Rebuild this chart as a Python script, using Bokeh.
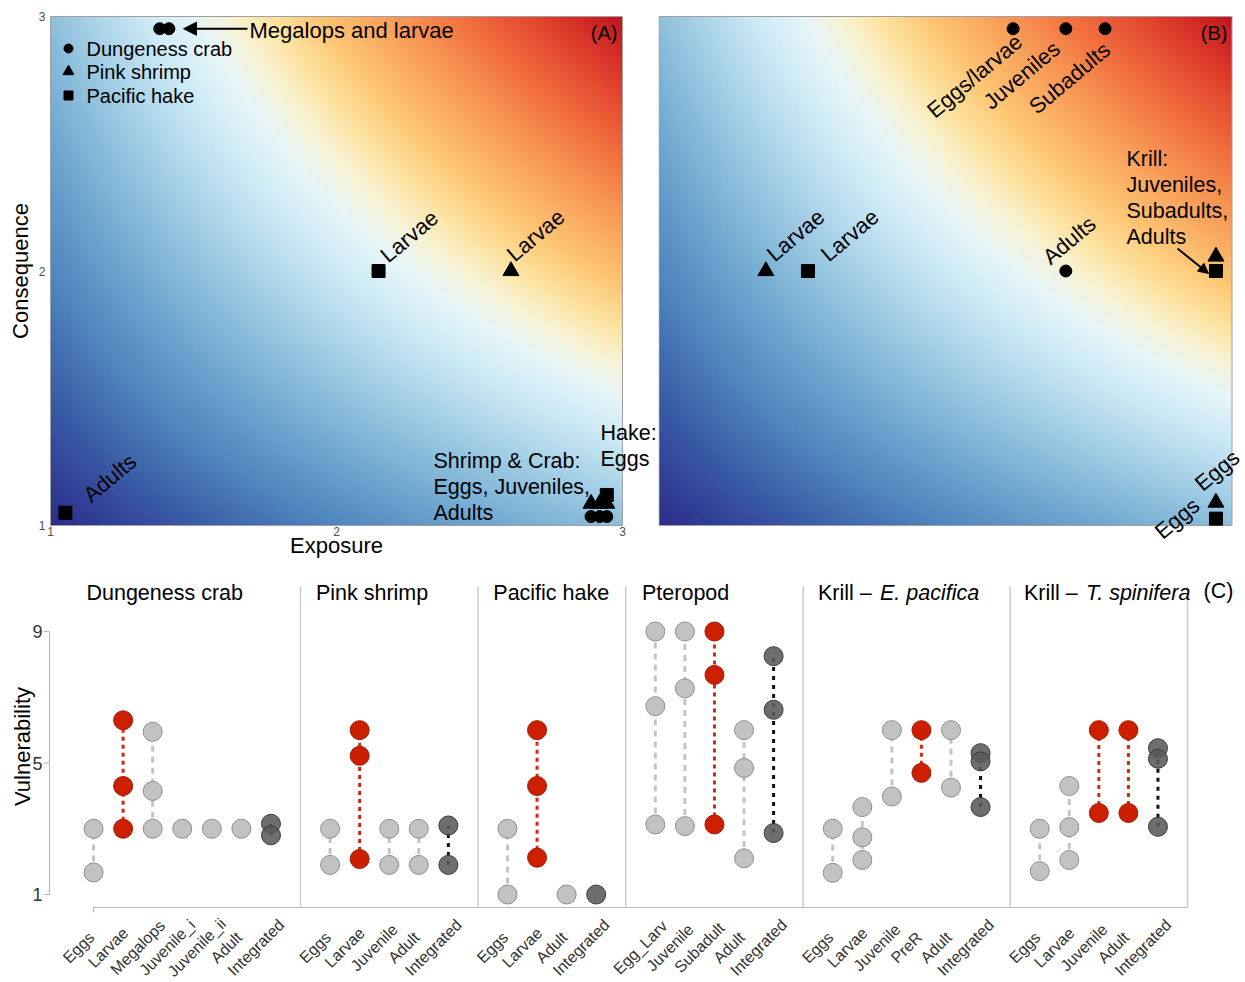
import math
import numpy as np
from bokeh.plotting import figure
from bokeh.models import (Label, LabelSet, Arrow, NormalHead, LinearColorMapper,
                          Range1d, ColumnDataSource)
from bokeh.layouts import column, row
from bokeh.embed import file_html
from bokeh.resources import INLINE
from bokeh.core.properties import value

FONT = "Liberation Sans"

# ---------------- Panel A data (Exposure, Consequence) ----------------
crab_exposure = [1.382, 1.414, 2.89, 2.92, 2.945]
crab_consequence = [2.952, 2.952, 1.035, 1.035, 1.035]
shrimp_exposure = [2.61, 2.89, 2.92, 2.945]
shrimp_consequence = [2.0, 1.086, 1.086, 1.086]
hake_exposure = [2.147, 1.052, 2.945]
hake_consequence = [2.0, 1.05, 1.12]

# ---------------- Panel B data ----------------
ptero_exposure = [2.236, 2.42, 2.557, 2.42]
ptero_consequence = [2.952, 2.952, 2.952, 2.0]
epac_exposure = [1.373, 2.944, 2.944]
epac_consequence = [2.0, 2.057, 1.09]
tspin_exposure = [1.52, 2.944, 2.944]
tspin_consequence = [2.0, 2.0, 1.027]

axis_ticks_ab = [1, 2, 3]

# ---------------- Risk surface colours ----------------
risk_stops = [1, 1.5, 2, 2.5, 3, 3.5, 4, 4.5, 4.9, 5.3, 5.8, 6.5, 7.3, 8.2, 9]
risk_colors = ["#2c2d8c", "#3a5ca6", "#5087bf", "#6ea5cf", "#8ec0dc", "#afd6ea",
               "#cdeaf7", "#e6f5f8", "#f8f2d3", "#fde3a0", "#fdc674", "#f9a05a",
               "#f2713f", "#df3e2c", "#c2141e"]

# ---------------- Panel C data (Vulnerability) ----------------
crab_stages = ["Eggs", "Larvae", "Megalops", "Juvenile_i", "Juvenile_ii", "Adult", "Integrated"]
crab_vuln = [[3, 1.67], [6.3, 4.3, 3.0], [5.95, 4.15, 3.0], [3.0], [3.0], [3.0], [3.15, 2.8]]
shrimp_stages = ["Eggs", "Larvae", "Juvenile", "Adult", "Integrated"]
shrimp_vuln = [[3.0, 1.9], [6.0, 5.22, 2.08], [3.0, 1.9], [3.0, 1.9], [3.1, 1.9]]
hake_stages = ["Eggs", "Larvae", "Adult", "Integrated"]
hake_vuln = [[3.0, 1.0], [6.0, 4.3, 2.12], [1.0], [1.0]]
ptero_stages = ["Egg_Larv", "Juvenile", "Subadult", "Adult", "Integrated"]
ptero_vuln = [[9.0, 6.73, 3.13], [9.0, 7.27, 3.08], [9.0, 7.68, 3.13], [6.0, 4.85, 2.1], [8.25, 6.62, 2.87]]
epac_stages = ["Eggs", "Larvae", "Juvenile", "PreR", "Adult", "Integrated"]
epac_vuln = [[3.0, 1.66], [3.66, 2.74, 2.05], [6.0, 3.98], [6.0, 4.7], [6.0, 4.25], [5.3, 5.05, 3.66]]
tspin_stages = ["Eggs", "Larvae", "Juvenile", "Adult", "Integrated"]
tspin_vuln = [[3.0, 1.71], [4.3, 3.05, 2.05], [6.0, 3.48], [6.0, 3.48], [5.45, 5.13, 3.06]]
vuln_ticks = [1, 5, 9]

facet_titles = ["Dungeness crab", "Pink shrimp", "Pacific hake", "Pteropod", "Krill \u2013", "Krill \u2013"]
facet_italic = ["", "", "", "", "E. pacifica", "T. spinifera"]
facet_stages = [crab_stages, shrimp_stages, hake_stages, ptero_stages, epac_stages, tspin_stages]
facet_vuln = [crab_vuln, shrimp_vuln, hake_vuln, ptero_vuln, epac_vuln, tspin_vuln]
facet_highlight = [["Larvae"], ["Larvae"], ["Larvae"], ["Subadult"], ["PreR"], ["Juvenile", "Adult"]]

# ======================================================================
def hex2rgb(h):
    return [int(h[i:i + 2], 16) for i in (1, 3, 5)]

stops = np.array(risk_stops, dtype=float)
rgb = np.array([hex2rgb(c) for c in risk_colors], dtype=float)
palette = []
for v in np.linspace(1, 9, 256):
    r, g, b = (np.interp(v, stops, rgb[:, k]) for k in range(3))
    palette.append("#%02x%02x%02x" % (int(round(r)), int(round(g)), int(round(b))))
mapper = LinearColorMapper(palette=palette, low=1, high=9)

grid = np.linspace(1, 3, 400)
risk = np.outer(grid, grid)


def add_label(p, text, x, y, size, angle=0.0, align="left", baseline="middle",
              italic=False, color="black", x_offset=0):
    p.add_layout(Label(x=x, y=y, text=text, text_font=FONT, text_font_size=f"{size}px",
                       angle=angle, text_align=align, text_baseline=baseline,
                       text_color=color, x_offset=x_offset,
                       text_font_style="italic" if italic else "normal"))


def bare_fig(width, height, xr, yr):
    p = figure(width=width, height=height, x_range=Range1d(*xr), y_range=Range1d(*yr),
               output_backend="svg", toolbar_location=None,
               x_axis_location=None, y_axis_location=None,
               min_border=0, min_border_left=0, min_border_right=0,
               min_border_top=0, min_border_bottom=0)
    p.grid.visible = False
    p.outline_line_color = None
    return p


# pixel <-> data helpers (panels A/B share the vertical scale)
AXS, BXS, YS = 286.0, 286.5, 254.5
def ax(px): return 1 + (px - 50) / AXS
def bx(px): return 1 + (px - 658.5) / BXS
def ay(py): return 3 - (py - 16) / YS


def risk_panel(p):
    p.image(image=[risk], x=1, y=1, dw=2, dh=2, color_mapper=mapper)
    p.quad(left=[1], right=[3], bottom=[1], top=[3], fill_color=None,
           line_color="#a0a0a0", line_width=1)


def legend(p, xf, names):
    xs = xf(68)
    ys = [ay(48), ay(71), ay(95)]
    p.scatter([xs], [ys[0]], marker="circle", size=9, color="black")
    p.scatter([xs], [ys[1]], marker="triangle", size=11, color="black")
    p.scatter([xs], [ys[2]], marker="square", size=9, color="black")
    lsrc = ColumnDataSource(dict(x=[xf(86)] * 3, y=ys, text=names))
    p.add_layout(LabelSet(x="x", y="y", text="text", source=lsrc, text_align="left",
                          text_baseline="middle", text_font=value(FONT),
                          text_font_size="20px", text_color="black"))


ROT = math.radians(40)

# ---------------- Panel A ----------------
pA = bare_fig(658, 560, (ax(0), ax(658)), (ay(560), ay(0)))
risk_panel(pA)
for t in axis_ticks_ab:
    add_label(pA, str(t), ax(45), t, 12, align="right", color="#4d4d4d")
    add_label(pA, str(t), t, ay(531), 12, align="center", color="#4d4d4d")
add_label(pA, "Exposure", 2.0, ay(545), 22, align="center")
add_label(pA, "Consequence", ax(20), 2.0, 22, angle=math.pi / 2, align="center")

pA.scatter(crab_exposure, crab_consequence, marker="circle", size=12, color="black")
pA.scatter(shrimp_exposure, shrimp_consequence, marker="triangle", size=16, color="black")
pA.scatter(hake_exposure, hake_consequence, marker="square", size=13, color="black")
legend(pA, ax, ["Dungeness crab", "Pink shrimp", "Pacific hake"])

add_label(pA, "(A)", ax(617), ay(32), 20, align="right")
pA.add_layout(Arrow(end=NormalHead(size=13, fill_color="black", line_color="black"),
                    x_start=ax(247), y_start=crab_consequence[0],
                    x_end=ax(183), y_end=crab_consequence[0],
                    line_width=2, line_color="black"))
add_label(pA, "Megalops and larvae", ax(249), crab_consequence[0] - 2 / YS, 22)
add_label(pA, "Larvae", hake_exposure[0] + 5 / AXS, hake_consequence[0] + 13 / YS, 22,
          angle=ROT, baseline="alphabetic")
add_label(pA, "Larvae", shrimp_exposure[0] - 1 / AXS, shrimp_consequence[0] + 14 / YS, 22,
          angle=ROT, baseline="alphabetic")
add_label(pA, "Adults", hake_exposure[1] + 21 / AXS, hake_consequence[1] + 15 / YS, 22,
          angle=ROT, baseline="alphabetic")
for i, t in enumerate(["Shrimp & Crab:", "Eggs, Juveniles,", "Adults"]):
    add_label(pA, t, ax(433), ay(460 + 26 * i), 21.5)
for i, t in enumerate(["Hake:", "Eggs"]):
    add_label(pA, t, ax(600), ay(432 + 26 * i), 21.5)

# ---------------- Panel B ----------------
pB = bare_fig(587, 560, (bx(658), bx(1245)), (ay(560), ay(0)))
risk_panel(pB)
pB.scatter(ptero_exposure, ptero_consequence, marker="circle", size=12, color="black")
pB.scatter(epac_exposure, epac_consequence, marker="triangle", size=16, color="black")
pB.scatter(tspin_exposure, tspin_consequence, marker="square", size=13, color="black")
legend(pB, bx, ["Pteropod", "Krill - E. pacifica", "Krill - T. spinifera"])
add_label(pB, "(B)", bx(1227), ay(32), 20, align="right")

add_label(pB, "Eggs/larvae", ptero_exposure[0] + 6 / BXS, ptero_consequence[0] - 10 / YS, 22,
          angle=ROT, align="right", baseline="alphabetic")
add_label(pB, "Juveniles", ptero_exposure[1] - 9 / BXS, ptero_consequence[1] - 17 / YS, 22,
          angle=ROT, align="right", baseline="alphabetic")
add_label(pB, "Subadults", ptero_exposure[2] + 2 / BXS, ptero_consequence[2] - 18 / YS, 22,
          angle=ROT, align="right", baseline="alphabetic")
add_label(pB, "Adults", ptero_exposure[3] - 20 / BXS, ptero_consequence[3] + 11 / YS, 22,
          angle=ROT, baseline="alphabetic")
add_label(pB, "Larvae", epac_exposure[0] + 4 / BXS, epac_consequence[0] + 14 / YS, 22,
          angle=ROT, baseline="alphabetic")
add_label(pB, "Larvae", tspin_exposure[0] + 16 / BXS, tspin_consequence[0] + 14 / YS, 22,
          angle=ROT, baseline="alphabetic")
add_label(pB, "Eggs", epac_exposure[2] - 18 / BXS, epac_consequence[2] + 16 / YS, 22,
          angle=ROT, baseline="alphabetic")
add_label(pB, "Eggs", tspin_exposure[2] - 58 / BXS, tspin_consequence[2] - 16 / YS, 22,
          angle=ROT, baseline="alphabetic")
for i, t in enumerate(["Krill:", "Juveniles,", "Subadults,", "Adults"]):
    add_label(pB, t, bx(1126), ay(158 + 26 * i), 21.5)
pB.add_layout(Arrow(end=NormalHead(size=10, fill_color="black", line_color="black"),
                    x_start=bx(1177), y_start=ay(248), x_end=bx(1208), y_end=ay(273),
                    line_width=2, line_color="black"))

# ---------------- Panel C ----------------
CX, CY = 29.567, 32.875
def cx(px): return -0.49 + (px - 49) / CX
def cy(py): return 9 - (py - 631) / CY

pC = bare_fig(1245, 422, (cx(0), cx(1245)), (cy(982), cy(560)))

AXIS_GREY = "#b8b8b8"
# y axis (capped at 1..9)
pC.segment(x0=[cx(49)], y0=[vuln_ticks[0]], x1=[cx(49)], y1=[vuln_ticks[-1]],
           line_color=AXIS_GREY, line_width=1.2)
pC.segment(x0=[cx(43)] * len(vuln_ticks), y0=vuln_ticks, x1=[cx(49)] * len(vuln_ticks),
           y1=vuln_ticks, line_color=AXIS_GREY, line_width=1.2)
for t in vuln_ticks:
    add_label(pC, str(t), cx(42), t, 18, align="right", color="#333333")
add_label(pC, "Vulnerability", cx(22), cy(746), 22, angle=math.pi / 2, align="center")

pos = 0
boundaries, lefts = [], []
groups = {k: dict(x=[], y=[], sx=[], s0=[], s1=[]) for k in ("grey", "red", "dark")}
tick_x, tick_t = [], []
for stages, vuln, hl in zip(facet_stages, facet_vuln, facet_highlight):
    left = pos
    lefts.append(left)
    for i, (st, vs) in enumerate(zip(stages, vuln)):
        xc = left + i + 1
        cls = "dark" if st == "Integrated" else ("red" if st in hl else "grey")
        g = groups[cls]
        for v in vs:
            g["x"].append(xc); g["y"].append(v)
        if len(vs) > 1:
            g["sx"].append(xc); g["s0"].append(min(vs)); g["s1"].append(max(vs))
        tick_x.append(xc); tick_t.append(st)
    pos = left + len(stages) + 1
    boundaries.append(pos)

# x axis line (capped from first stage to last facet edge)
pC.segment(x0=[tick_x[0]], y0=[cy(907)], x1=[boundaries[-1]], y1=[cy(907)],
           line_color=AXIS_GREY, line_width=1.2)
pC.segment(x0=[tick_x[0]], y0=[cy(907)], x1=[tick_x[0]], y1=[cy(912)],
           line_color=AXIS_GREY, line_width=1.2)
# facet separators
pC.segment(x0=boundaries, y0=[cy(907)] * len(boundaries), x1=boundaries,
           y1=[cy(586)] * len(boundaries), line_color="#cccccc", line_width=1.5)

styles = {"grey": ("#c4c4c4", "6 5", "#c2c2c2", "#8e8e8e", 1.0),
          "red": ("#d42a14", "4 4", "#cc1f00", "#a81a00", 1.0),
          "dark": ("#111111", "4 5", "#5a5a5a", "#3c3c3c", 0.88)}
for cls in ["grey", "red", "dark"]:
    g = groups[cls]
    lc, dash, fc, oc, fa = styles[cls]
    pC.segment(x0=g["sx"], y0=g["s0"], x1=g["sx"], y1=g["s1"], line_color=lc,
               line_width=3, line_dash=dash)
for cls in ["grey", "red", "dark"]:
    g = groups[cls]
    lc, dash, fc, oc, fa = styles[cls]
    pC.scatter(g["x"], g["y"], marker="circle", size=19, fill_color=fc, line_color=oc,
               line_width=1, fill_alpha=fa)

# stage labels: centred on a point below-left of each stage, rotated 45 degrees
src = ColumnDataSource(dict(x=tick_x, y=[cy(947)] * len(tick_x), text=tick_t))
pC.add_layout(LabelSet(x="x", y="y", text="text", source=src, angle=math.pi / 4,
                       text_align="center", text_baseline="middle", x_offset=-15,
                       text_font=value(FONT), text_font_size="16px", text_color="#333333"))

title_shift = [0.76, 0.52, 0.52, 0.55, 0.5, 0.47]
for left, sh, t, it in zip(lefts, title_shift, facet_titles, facet_italic):
    add_label(pC, t, left + sh, cy(592), 21.5)
    if it:
        add_label(pC, it, left + sh, cy(592), 21.5, italic=True, x_offset=62)
add_label(pC, "(C)", cx(1203), cy(590), 21.5)

layout = column(row(pA, pB), pC)
open("out.html", "w").write(file_html(layout, INLINE, title="Risk and vulnerability"))
